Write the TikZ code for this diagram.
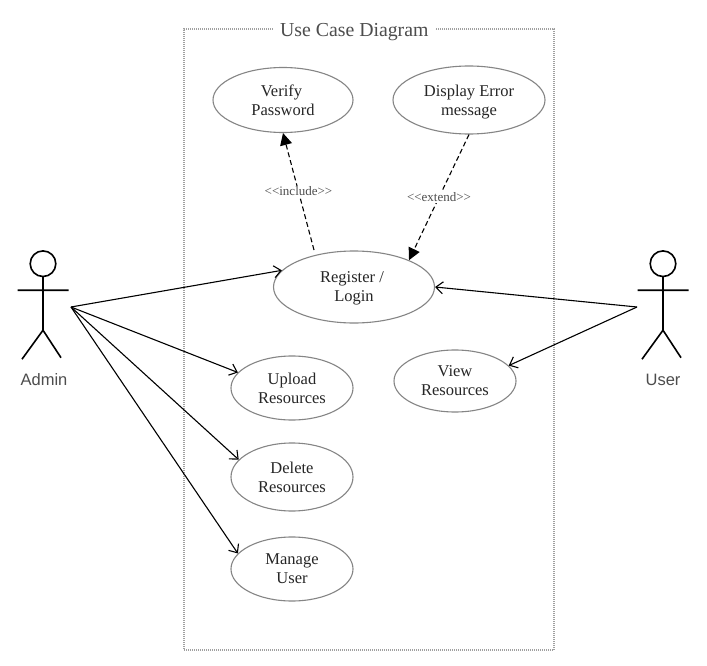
\documentclass[tikz,border=0pt]{standalone}
\usepackage{fontspec}
\setmainfont{Liberation Serif}
\setsansfont{Liberation Sans}
\usetikzlibrary{shapes.geometric,arrows.meta}
\definecolor{txt}{HTML}{262626}
\definecolor{lbl}{HTML}{4D4D4D}
\definecolor{edgegray}{HTML}{858585}
\definecolor{framegray}{HTML}{A0A0A0}
\tikzset{
  usecase/.style={draw=edgegray,line width=1.1pt,ellipse,inner sep=0pt,align=center,text=txt,fill=white,
    font=\fontsize{16.5}{19}\selectfont},
  boundary/.style={draw=framegray,line width=1.3pt,dash pattern=on 1pt off 1pt,rectangle,inner sep=0pt,minimum width=370pt,minimum height=621pt},
  titletext/.style={fill=white,inner xsep=6pt,inner ysep=1pt,text=lbl,font=\fontsize{19.8}{22}\selectfont},
  actorlabel/.style={text=lbl,inner sep=0pt,font=\sffamily\fontsize{16.5}{19}\selectfont},
  assoc/.style={black,line width=1.1pt,-{Straight Barb[length=7pt,width=12pt,line width=1.1pt]}},
  depend/.style={black,line width=1.1pt,dash pattern=on 5pt off 3pt,-{Triangle[length=12pt,width=12pt]}},
  stereo/.style={fill=white,inner xsep=1pt,inner ysep=1pt,text=lbl,font=\fontsize{13}{15}\selectfont},
  actorfig/.pic={
    \draw[black,line width=1.6pt,line join=miter]
      (0,0) circle[radius=12.8]
      (0,12.8) -- (0,66.5)
      (-25.5,26.5) -- (25.5,26.5)
      (-21,95.5) -- (0,66.5) -- (18,94);
  }
}
\begin{document}
\begin{tikzpicture}[x=1pt,y=-1pt]
\useasboundingbox (0,0) rectangle (707,666);
\fill[white] (0,0) rectangle (707,666);
\node[boundary] (frame) at (369,339.5) {};
\node[titletext] (title) at (354.3,32) {Use Case Diagram};

\pic at (43,263.7) {actorfig};
\pic at (663,263.7) {actorfig};
\node[actorlabel] (admin) at (44,379.5) {Admin};
\node[actorlabel] (user) at (663,379.5) {User};
\coordinate (adminport) at (71,307);
\coordinate (userport) at (637,307);
\coordinate (regtop) at (314,250);

\node[usecase,minimum width=140pt,minimum height=65pt] (verify) at (283,100) {Verify\hspace*{3pt}\\Password};
\node[usecase,minimum width=152pt,minimum height=68pt] (display) at (469,100) {Display Error\\\smash{message}};
\node[usecase,minimum width=161pt,minimum height=72pt] (register) at (354,287) {Register /\hspace*{4pt}\\\smash{Login}};
\node[usecase,minimum width=122pt,minimum height=64pt] (upload) at (292,388) {Upload\\Resources};
\node[usecase,minimum width=122pt,minimum height=68pt] (delete) at (292,477) {Delete\\Resources};
\node[usecase,minimum width=122pt,minimum height=64pt] (manage) at (292,569) {Manage\\User};
\node[usecase,minimum width=122pt,minimum height=62pt] (view) at (455,381) {View\\Resources};

\draw[assoc] (adminport) -- (register.167.5);
\draw[assoc] (adminport) -- (upload.164.5);
\draw[assoc] (adminport) -- (delete.162.5);
\draw[assoc] (adminport) -- (manage.164);
\draw[assoc] (userport) -- (register.east);
\draw[assoc] (userport) -- (view.16);
\draw[depend] (regtop) -- node[stereo] (inc) {<{}<include>{}>} (verify.south);
\draw[depend] (display.south) -- node[stereo] (ext) {<{}<extend>{}>} (register.26);
\end{tikzpicture}
\end{document}
